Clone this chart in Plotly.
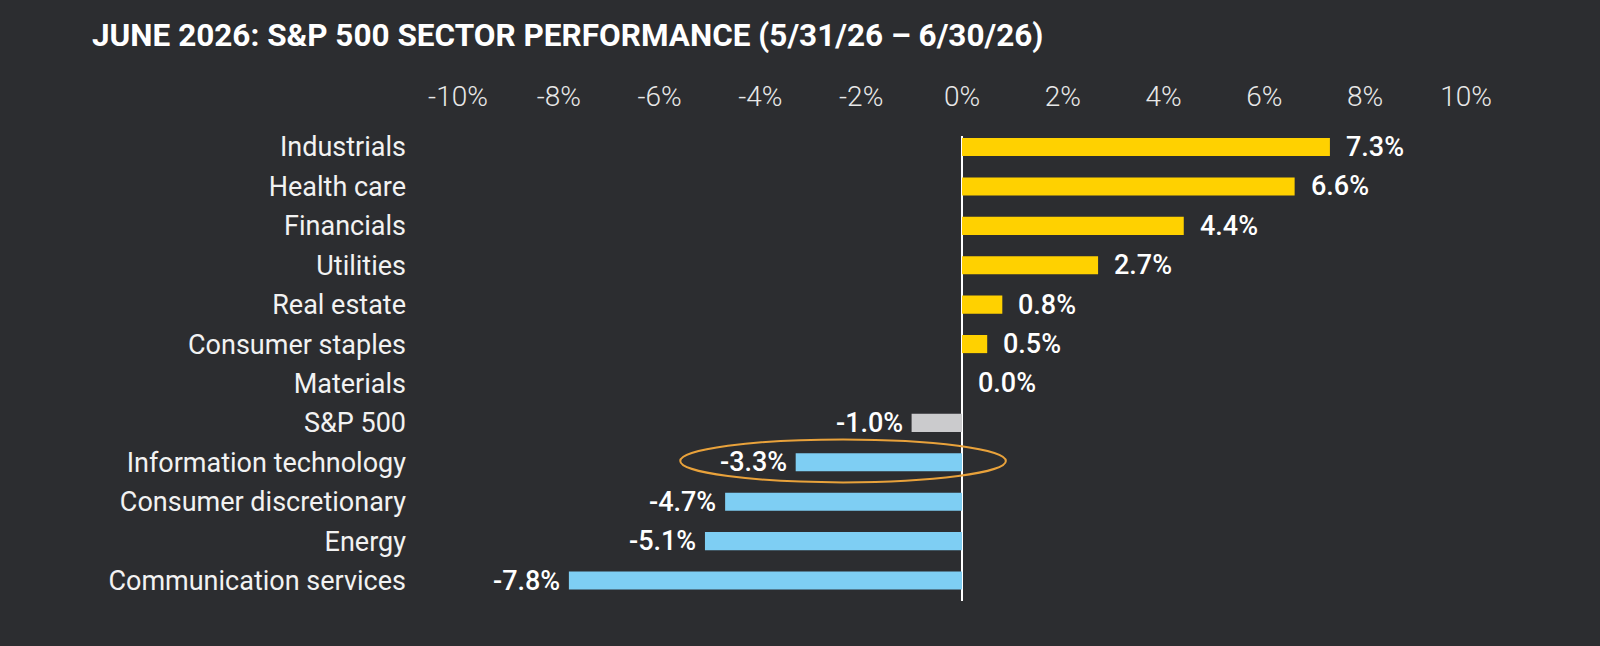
import plotly.graph_objects as go

# sector returns for June 2026, top to bottom as shown
sectors = ["Industrials", "Health care", "Financials", "Utilities", "Real estate",
           "Consumer staples", "Materials", "S&P 500", "Information technology",
           "Consumer discretionary", "Energy", "Communication services"]
returns = [7.3, 6.6, 4.4, 2.7, 0.8, 0.5, 0.0, -1.0, -3.3, -4.7, -5.1, -7.8]
tick_vals = [-10, -8, -6, -4, -2, 0, 2, 4, 6, 8, 10]
tick_text = ["-10%", "-8%", "-6%", "-4%", "-2%", "0%", "2%", "4%", "6%", "8%", "10%"]
highlight = "Information technology"

BG = "#2c2d30"
YELLOW = "#ffd100"
BLUE = "#7ecef3"
GREY = "#cbcbcd"
FONT = "Roboto"

colors = []
for s, v in zip(sectors, returns):
    if s == "S&P 500":
        colors.append(GREY)
    elif v >= 0:
        colors.append(YELLOW)
    else:
        colors.append(BLUE)

fig = go.Figure()
fig.add_trace(go.Bar(
    x=returns, y=sectors, orientation="h",
    marker=dict(color=colors, line=dict(width=0)),
    width=0.46, hoverinfo="skip",
))

# value labels next to bar ends
for s, v in zip(sectors, returns):
    fig.add_annotation(
        x=v, y=s, text="%.1f%%" % v, showarrow=False,
        xanchor="left" if v >= 0 else "right",
        xshift=14 if v >= 0 else -7,
        font=dict(family=FONT, size=27, color="white", weight=500),
    )

# ring around the highlighted row
hi = sectors.index(highlight)
fig.add_shape(type="circle", xref="x", yref="y",
              x0=-5.59, x1=0.87, y0=hi - 0.58, y1=hi + 0.51,
              line=dict(color="#e9a23b", width=2))

fig.update_layout(
    width=1600, height=646,
    paper_bgcolor=BG, plot_bgcolor=BG,
    margin=dict(l=458, r=134, t=136, b=45),
    showlegend=False,
    title=dict(text="<b>JUNE 2026: S&P 500 SECTOR PERFORMANCE (5/31/26 – 6/30/26)</b>",
               x=92 / 1600, xanchor="left", y=1 - 35 / 646, yanchor="middle",
               font=dict(family=FONT, size=31.5, color="white")),
    xaxis=dict(range=[-10, 10], side="top", tickvals=tick_vals, ticktext=tick_text,
               showgrid=False, zeroline=True, zerolinecolor="white", zerolinewidth=2,
               ticks="", ticklabelstandoff=23, fixedrange=True,
               tickfont=dict(family=FONT, size=28, color="#e8e8e8", weight=300)),
    yaxis=dict(range=[11.52, -0.28], categoryorder="array", categoryarray=sectors,
               showgrid=False, zeroline=False, ticks="", ticklabelstandoff=51,
               fixedrange=True,
               tickfont=dict(family=FONT, size=27, color="#f2f2f2")),
)

# drop the page margin so the dark chart fills the window
fig.write_html("out.html", config={"displayModeBar": False},
               post_script="document.body.style.margin='0';"
                           "document.body.style.background='%s';" % BG)
